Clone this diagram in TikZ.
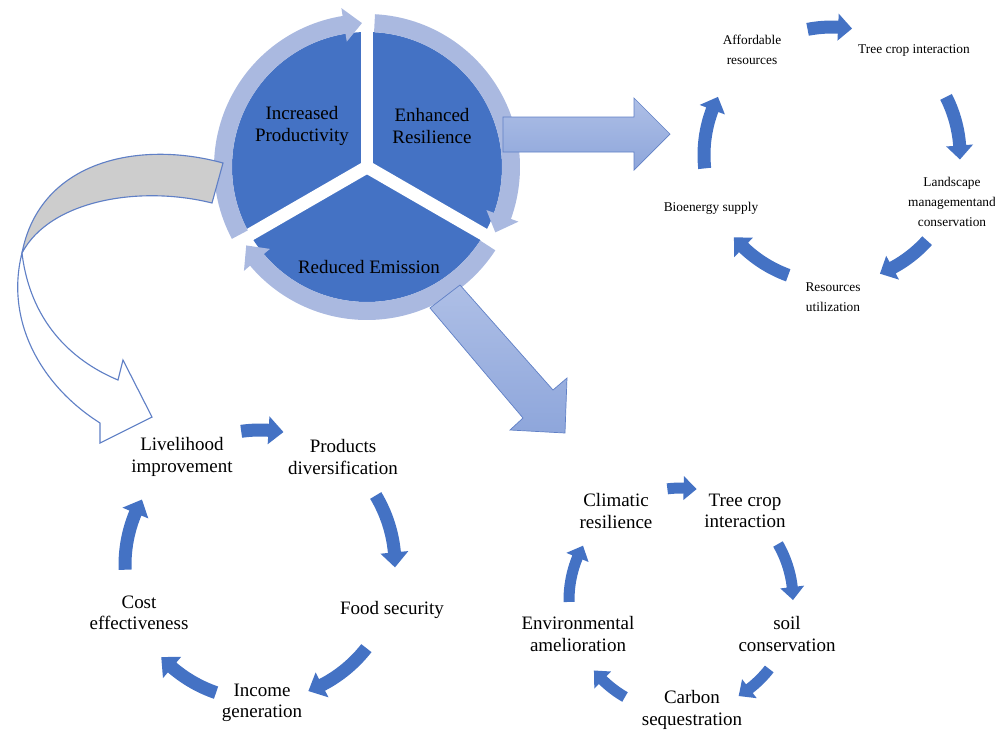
\documentclass[tikz,border=0pt]{standalone}
\usepackage{fontspec}
\setmainfont{Liberation Serif}
\usetikzlibrary{calc}
\definecolor{accent}{RGB}{68,114,196}
\definecolor{ringblue}{RGB}{170,185,224}
\definecolor{arrowtop}{RGB}{174,191,230}
\definecolor{arrowbot}{RGB}{142,166,219}
\definecolor{edgeblue}{RGB}{96,128,198}
\definecolor{bandgrey}{RGB}{205,205,205}
\def\bentarrow[#1](#2)(#3:#4:#5){%
	\pgfmathsetmacro\headang{#4+\arrhl/#5*57.2958}%
	\fill[#1] ($(#2)+({#3}:{#5+\arrbw})$) arc[start angle=#3, end angle=\headang, radius=#5+\arrbw]
	-- ($(#2)+({\headang}:{#5+\arrhw})$) -- ($(#2)+({#4}:{#5})$)
	-- ($(#2)+({\headang}:{#5-\arrhw})$) -- ($(#2)+({\headang}:{#5-\arrbw})$)
	arc[start angle=\headang, end angle=#3, radius=#5-\arrbw] -- cycle;}

\begin{document}
\begin{tikzpicture}[x=0.025cm, y=0.025cm,
	big/.style={align=center, font=\fontsize{13.5}{15.2}\selectfont},
	small/.style={align=center, font=\fontsize{9.5}{14.2}\selectfont},
	block/.style={draw=edgeblue, line width=0.5pt, top color=arrowtop, bottom color=arrowbot}]
		%%%%% START %%%%%
		\useasboundingbox (0,0) rectangle (995,-733);
		
		\coordinate (hub) at (367,-167);
		\coordinate (tc) at (832,-155);
		\coordinate (lc) at (260,-565);
		\coordinate (rc) at (681,-600);
		
		\fill[accent] (hub) circle (135);
		\foreach \a in {90,210,330}
			\draw[white, line width=0.32cm] (hub) -- ++(\a:140);
		
		\def\arrbw{9}\def\arrhw{17}\def\arrhl{18}
		\bentarrow[ringblue](hub)(208:92:144);
		\bentarrow[ringblue](hub)(87:-27:144);
		\bentarrow[ringblue](hub)(-33:-147:144);
		
		\draw[block] (503,-117) -- (634,-117) -- (634,-98) -- (670,-134) -- (634,-170) -- (634,-152) -- (503,-152) -- cycle;
		\draw[block] (430,-308) -- (523,-418) -- (510,-430) -- (565,-433) -- (567,-378) -- (553,-390) -- (460,-285) -- cycle;
		
		\draw[edgeblue, line width=0.8pt, fill=bandgrey] (223,-163) .. controls (140,-140) and (40,-160) .. (22,-253)
			.. controls (50,-200) and (140,-185) .. (212,-203) -- cycle;
		\draw[edgeblue, line width=0.8pt, fill=white] (22,-253) .. controls (5,-320) and (40,-385) .. (100,-423)
			-- (100,-443) -- (152,-417) -- (123,-360) -- (118,-380) .. controls (70,-360) and (30,-320) .. (22,-253) -- cycle;
		
		\node[big] (prod) at (302,-126) {Increased\\Productivity};
		\node[big] (resil) at (432,-126) {Enhanced\\Resilience};
		\node[big] (emis) at (369,-267) {Reduced Emission};
		
		% resilience cycle
		\def\arrbw{6.5}\def\arrhw{13.5}\def\arrhl{14}
		\bentarrow[accent](tc)(101:81:128);
		\bentarrow[accent](tc)(27:-2:128);
		\bentarrow[accent](tc)(-42:-68:128);
		\bentarrow[accent](tc)(-110:-140:128);
		\bentarrow[accent](tc)(186:153:128);
		\node[small] (afford) at (752,-50) {Affordable\\resources};
		\node[small] (tree1) at (914,-50) {Tree crop interaction};
		\node[small] (land) at (952,-202) {Landscape\\managementand\\conservation};
		\node[small] (util) at (833,-297) {Resources\\utilization};
		\node[small] (bio) at (711,-208) {Bioenergy supply};
		
		% productivity cycle
		\def\arrbw{6.5}\def\arrhw{14}\def\arrhl{15}
		\bentarrow[accent](lc)(98:80:135);
		\bentarrow[accent](lc)(31:-1:135);
		\bentarrow[accent](lc)(-38:-69:135);
		\bentarrow[accent](lc)(-109:-137:135);
		\bentarrow[accent](lc)(182:151:135);
		\node[big] (live) at (182,-457) {Livelihood\\improvement};
		\node[big] (divers) at (343,-457) {Products\\diversification};
		\node[big] (food) at (392,-610) {Food security};
		\node[big] (income) at (262,-703) {Income\\generation};
		\node[big] (cost) at (139,-613) {Cost\\effectiveness};
		
		% emission cycle
		\def\arrbw{5.5}\def\arrhw{12}\def\arrhl{13}
		\bentarrow[accent](rc)(97:82:112);
		\bentarrow[accent](rc)(30:0:112);
		\bentarrow[accent](rc)(-38:-59:112);
		\bentarrow[accent](rc)(-120:-141:112);
		\bentarrow[accent](rc)(181:151:112);
		\node[big] (climate) at (616,-511) {Climatic\\resilience};
		\node[big] (tree2) at (745,-511) {Tree crop\\interaction};
		\node[big] (soil) at (787,-634) {soil\\conservation};
		\node[big] (carbon) at (692,-710) {Carbon\\sequestration};
		\node[big] (env) at (578,-634) {Environmental\\amelioration};
		
		%%%%% END %%%%%
\end{tikzpicture}
\end{document}
